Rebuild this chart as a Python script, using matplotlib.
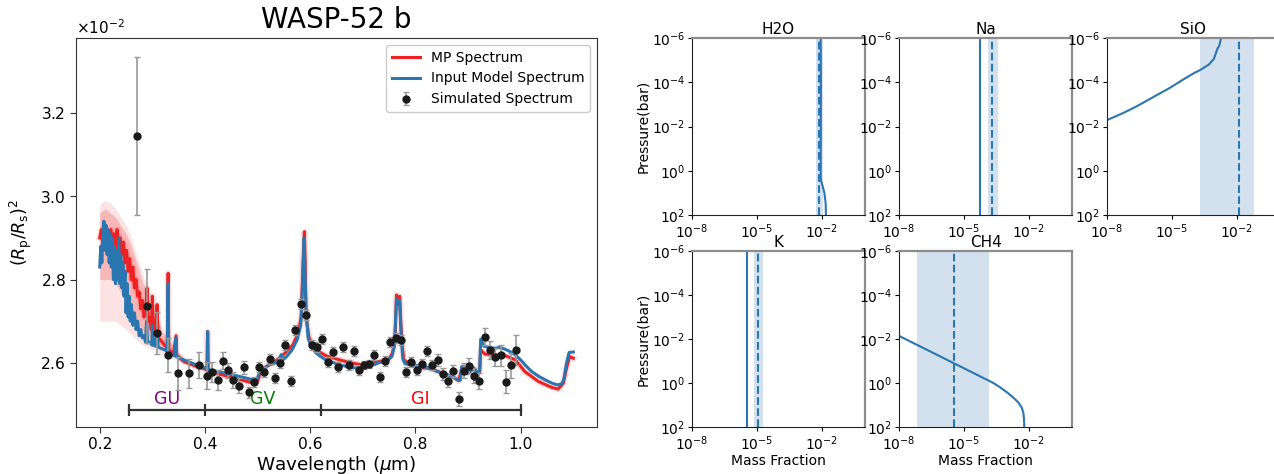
import numpy as np
import matplotlib
matplotlib.use("Agg")
import matplotlib.pyplot as plt

# ---------------- data (units of 1e-2 for transit depth) ----------------
# Input model spectrum (blue)
model_wl = [0.200, 0.202, 0.204, 0.206, 0.208, 0.210, 0.212, 0.214, 0.216, 0.218,
            0.220, 0.222, 0.224, 0.226, 0.228, 0.230, 0.232, 0.234, 0.236, 0.238,
            0.240, 0.242, 0.244, 0.246, 0.248, 0.250, 0.252, 0.254, 0.256, 0.258,
            0.260, 0.263, 0.266, 0.269, 0.272, 0.275, 0.278, 0.281, 0.284, 0.287,
            0.289, 0.291, 0.295, 0.299, 0.300, 0.302, 0.306, 0.309, 0.311, 0.316,
            0.322, 0.328, 0.330, 0.331, 0.338, 0.344, 0.345, 0.346, 0.360, 0.380,
            0.400, 0.404, 0.405, 0.406, 0.420, 0.440, 0.460, 0.480, 0.495, 0.500,
            0.505, 0.515, 0.520, 0.530, 0.540, 0.545, 0.548, 0.555, 0.565, 0.575,
            0.582, 0.586, 0.5885, 0.590, 0.592, 0.596, 0.600, 0.610, 0.620, 0.630,
            0.645, 0.660, 0.680, 0.700, 0.710, 0.715, 0.720, 0.730, 0.745, 0.755,
            0.760, 0.764, 0.767, 0.770, 0.773, 0.776, 0.780, 0.790, 0.800, 0.820,
            0.840, 0.855, 0.870, 0.880, 0.885, 0.888, 0.892, 0.900, 0.910, 0.918,
            0.922, 0.924, 0.930, 0.940, 0.950, 0.960, 0.970, 0.980, 0.990, 1.000,
            1.010, 1.020, 1.035, 1.050, 1.060, 1.070, 1.078, 1.082, 1.087, 1.092, 1.100]
model_val = [2.83, 2.88, 2.84, 2.91, 2.94, 2.87, 2.93, 2.86, 2.92, 2.84,
             2.91, 2.83, 2.90, 2.80, 2.88, 2.79, 2.87, 2.80, 2.90, 2.79,
             2.86, 2.78, 2.84, 2.76, 2.82, 2.72, 2.79, 2.71, 2.76, 2.70,
             2.74, 2.69, 2.72, 2.68, 2.70, 2.665, 2.68, 2.66, 2.665, 2.65,
             2.70, 2.648, 2.65, 2.643, 2.69, 2.642, 2.64, 2.68, 2.638, 2.635,
             2.632, 2.628, 2.79, 2.626, 2.62, 2.616, 2.66, 2.615, 2.607, 2.597,
             2.588, 2.585, 2.675, 2.584, 2.580, 2.575, 2.569, 2.563, 2.558, 2.565,
             2.580, 2.588, 2.595, 2.598, 2.605, 2.620, 2.607, 2.615, 2.630, 2.655,
             2.690, 2.800, 2.900, 2.820, 2.730, 2.660, 2.645, 2.625, 2.615, 2.607,
             2.600, 2.594, 2.588, 2.588, 2.594, 2.600, 2.595, 2.600, 2.605, 2.615,
             2.640, 2.755, 2.740, 2.750, 2.660, 2.610, 2.598, 2.595, 2.594, 2.590,
             2.580, 2.573, 2.567, 2.560, 2.558, 2.590, 2.575, 2.575, 2.588, 2.575,
             2.580, 2.657, 2.640, 2.637, 2.635, 2.637, 2.633, 2.627, 2.619, 2.607,
             2.593, 2.580, 2.567, 2.557, 2.551, 2.547, 2.550, 2.560, 2.599, 2.625, 2.626]

# MP retrieved spectrum (red)
mp_wl = [0.200, 0.203, 0.206, 0.209, 0.212, 0.215, 0.218, 0.221, 0.224, 0.227,
         0.230, 0.233, 0.236, 0.239, 0.242, 0.245, 0.248, 0.251, 0.254, 0.257,
         0.260, 0.263, 0.266, 0.269, 0.272, 0.275, 0.278, 0.281, 0.284, 0.287,
         0.290, 0.292, 0.295, 0.298, 0.300, 0.302, 0.306, 0.309, 0.311, 0.315,
         0.320, 0.325, 0.329, 0.330, 0.331, 0.340, 0.345, 0.346, 0.360, 0.380,
         0.400, 0.404, 0.405, 0.406, 0.430, 0.460, 0.490, 0.500, 0.505, 0.515,
         0.530, 0.545, 0.555, 0.567, 0.577, 0.583, 0.5865, 0.589, 0.5905, 0.592,
         0.598, 0.611, 0.630, 0.656, 0.681, 0.700, 0.712, 0.731, 0.750, 0.756,
         0.761, 0.764, 0.767, 0.770, 0.772, 0.775, 0.778, 0.788, 0.807, 0.832,
         0.851, 0.870, 0.882, 0.889, 0.900, 0.911, 0.919, 0.922, 0.924, 0.932,
         0.951, 0.971, 0.990, 1.008, 1.034, 1.059, 1.071, 1.081, 1.087, 1.093, 1.100]
mp_val = [2.90, 2.92, 2.89, 2.93, 2.90, 2.92, 2.88, 2.92, 2.89, 2.91,
          2.87, 2.92, 2.88, 2.90, 2.86, 2.89, 2.84, 2.87, 2.82, 2.85,
          2.80, 2.83, 2.78, 2.80, 2.76, 2.77, 2.73, 2.75, 2.71, 2.72,
          2.78, 2.70, 2.71, 2.68, 2.76, 2.68, 2.67, 2.74, 2.66, 2.655,
          2.648, 2.640, 2.635, 2.815, 2.632, 2.622, 2.665, 2.618, 2.603, 2.593,
          2.585, 2.582, 2.675, 2.581, 2.572, 2.562, 2.552, 2.556, 2.575, 2.590,
          2.600, 2.615, 2.627, 2.643, 2.671, 2.711, 2.850, 2.915, 2.840, 2.710,
          2.659, 2.631, 2.617, 2.607, 2.599, 2.595, 2.600, 2.603, 2.609, 2.623,
          2.650, 2.763, 2.745, 2.760, 2.700, 2.640, 2.607, 2.599, 2.591, 2.585,
          2.575, 2.567, 2.557, 2.591, 2.575, 2.587, 2.575, 2.578, 2.631, 2.621,
          2.619, 2.617, 2.607, 2.579, 2.555, 2.541, 2.537, 2.551, 2.587, 2.615, 2.611]

# MP spectrum uncertainty envelope (short-wavelength region)
band_wl = [0.200, 0.210, 0.220, 0.230, 0.240, 0.250, 0.260, 0.270, 0.280, 0.290,
           0.300, 0.310, 0.320, 0.330, 0.345, 0.360]
band_lo_outer = [2.70, 2.70, 2.70, 2.70, 2.69, 2.68, 2.67, 2.655, 2.645, 2.638,
                 2.632, 2.627, 2.622, 2.618, 2.610, 2.600]
band_hi_outer = [2.98, 2.99, 2.985, 2.97, 2.95, 2.93, 2.90, 2.86, 2.82, 2.78,
                 2.74, 2.71, 2.68, 2.66, 2.635, 2.615]
band_lo_inner = [2.80, 2.80, 2.80, 2.79, 2.77, 2.74, 2.72, 2.70, 2.68, 2.665,
                 2.652, 2.645, 2.638, 2.633, 2.618, 2.605]
band_hi_inner = [2.96, 2.97, 2.96, 2.95, 2.93, 2.91, 2.88, 2.84, 2.80, 2.76,
                 2.72, 2.70, 2.67, 2.655, 2.63, 2.61]

# Simulated observations
obs_wl = [0.270, 0.289, 0.309, 0.329, 0.349, 0.369, 0.389, 0.404, 0.414, 0.424,
          0.434, 0.443, 0.454, 0.464, 0.474, 0.484, 0.494, 0.503, 0.513, 0.523,
          0.533, 0.543, 0.553, 0.563, 0.572, 0.582, 0.592, 0.603, 0.613, 0.623,
          0.633, 0.643, 0.653, 0.663, 0.673, 0.683, 0.692, 0.702, 0.712, 0.722,
          0.732, 0.743, 0.752, 0.763, 0.773, 0.782, 0.792, 0.802, 0.812, 0.822,
          0.832, 0.842, 0.852, 0.862, 0.872, 0.882, 0.892, 0.902, 0.911, 0.921,
          0.932, 0.942, 0.952, 0.962, 0.972, 0.982, 0.992]
obs_val = [3.145, 2.737, 2.671, 2.619, 2.575, 2.575, 2.594, 2.569, 2.578, 2.559,
           2.605, 2.582, 2.559, 2.545, 2.589, 2.529, 2.554, 2.589, 2.579, 2.609,
           2.563, 2.599, 2.643, 2.557, 2.678, 2.742, 2.715, 2.643, 2.637, 2.657,
           2.601, 2.626, 2.590, 2.638, 2.596, 2.629, 2.583, 2.595, 2.598, 2.619,
           2.567, 2.605, 2.649, 2.659, 2.655, 2.579, 2.603, 2.583, 2.598, 2.629,
           2.595, 2.607, 2.574, 2.557, 2.580, 2.514, 2.581, 2.593, 2.569, 2.556,
           2.663, 2.631, 2.614, 2.618, 2.555, 2.594, 2.631]
obs_err = [0.190, 0.089, 0.050, 0.040, 0.040, 0.035, 0.031, 0.032, 0.024, 0.025,
           0.020, 0.018, 0.020, 0.018, 0.015, 0.013, 0.012, 0.012, 0.012, 0.012,
           0.012, 0.012, 0.012, 0.012, 0.012, 0.012, 0.012, 0.012, 0.012, 0.012,
           0.012, 0.012, 0.012, 0.012, 0.012, 0.012, 0.012, 0.010, 0.010, 0.012,
           0.012, 0.012, 0.012, 0.012, 0.012, 0.012, 0.012, 0.012, 0.012, 0.012,
           0.012, 0.014, 0.014, 0.014, 0.014, 0.017, 0.018, 0.018, 0.018, 0.020,
           0.020, 0.022, 0.022, 0.025, 0.028, 0.030, 0.036]

# Photometric bands
band_names = ["GU", "GV", "GI"]
band_edges = [0.255, 0.40, 0.62, 1.00]
band_colors = ["purple", "green", "red"]
band_level = 2.487

# Abundance profiles (pressure in bar, mass fraction)
h2o_p = [1e-6, 1e-4, 1e-2, 1e0, 10**0.41, 10**0.7, 10**1.0, 10**1.47, 1e2]
h2o_x = [0.0089, 0.0091, 0.0090, 0.0089, 0.0090, 0.0110, 0.0132, 0.0151, 0.0155]
h2o_fit, h2o_lo, h2o_hi = 0.0076, 0.0054, 0.0117

na_p = [1e-6, 1e2]
na_x = [5.5e-5, 5.5e-5]
na_fit, na_lo, na_hi = 2.0e-4, 1.23e-4, 3.6e-4

sio_p = [10**-6.0, 10**-5.65, 10**-5.5, 10**-5.05, 10**-4.8, 10**-4.56, 10**-4.41,
         10**-4.14, 10**-3.76, 10**-3.26, 10**-2.92, 10**-2.62, 10**-2.29]
sio_x = [10**-2.72, 10**-2.81, 10**-2.9, 10**-3.06, 10**-3.29, 10**-3.68, 10**-3.98,
         10**-4.45, 10**-5.07, 10**-5.99, 10**-6.61, 10**-7.23, 1e-8]
sio_fit, sio_lo, sio_hi = 10**-1.88, 10**-3.72, 10**-1.19

k_p = [1e-6, 1e2]
k_x = [10**-5.48, 10**-5.48]
k_fit, k_lo, k_hi = 10**-4.94, 10**-5.14, 10**-4.74

ch4_p = [10**-2.14, 10**-0.9, 10**0.0, 10**0.19, 10**0.41, 10**0.66, 10**0.88,
         10**1.11, 10**1.37, 10**1.67, 10**2.0]
ch4_x = [1e-8, 10**-5.47, 10**-3.64, 10**-3.34, 10**-3.03, 10**-2.72, 10**-2.49,
         10**-2.33, 10**-2.25, 10**-2.22, 10**-2.21]
ch4_fit, ch4_lo, ch4_hi = 10**-5.47, 10**-7.17, 10**-3.83

# ---------------- figure ----------------
plt.rcParams['font.family'] = 'DejaVu Sans'
fig = plt.figure(figsize=(12.74, 4.74), dpi=100)

RED = '#ee2222'
BLUE = '#2a76b0'
S = 1e-2

ax = fig.add_axes([0.0597, 0.0992, 0.4089, 0.8206])
bw = np.array(band_wl)
ax.fill_between(bw, np.array(band_lo_outer) * S, np.array(band_hi_outer) * S,
                color=RED, alpha=0.13, lw=0)
ax.fill_between(bw, np.array(band_lo_inner) * S, np.array(band_hi_inner) * S,
                color=RED, alpha=0.22, lw=0)
ax.plot(mp_wl, np.array(mp_val) * S, color=RED, lw=4.5, alpha=0.15)
ax.plot(mp_wl, np.array(mp_val) * S, color=RED, lw=2.2, label='MP Spectrum')
ax.plot(model_wl, np.array(model_val) * S, color=BLUE, lw=2.2, label='Input Model Spectrum')
ax.errorbar(obs_wl, np.array(obs_val) * S, yerr=np.array(obs_err) * S, fmt='o',
            color='#1a1a1a', ms=5, ecolor='#999999', elinewidth=1.2, capsize=2,
            capthick=1, label='Simulated Spectrum', zorder=5)

# band bracket
ax.plot(band_edges, [band_level * S] * len(band_edges), color='#333333', lw=1.6,
        marker='|', ms=8, mew=1.6)
for i, name in enumerate(band_names):
    ax.text(0.5 * (band_edges[i] + band_edges[i + 1]), (band_level + 0.004) * S, name,
            color=band_colors[i], ha='center', va='bottom', fontsize=12.5)

ax.set_xlim(0.155, 1.145)
ax.set_ylim(2.446 * S, 3.38 * S)
ax.set_yticks(np.array([2.6, 2.8, 3.0, 3.2]) * S)
ax.set_xticks([0.2, 0.4, 0.6, 0.8, 1.0])
ax.ticklabel_format(axis='y', style='sci', scilimits=(0, 0), useMathText=True)
ax.yaxis.get_offset_text().set_fontsize(11)
ax.tick_params(labelsize=11.2, color='#333333', length=4)
for sp in ax.spines.values():
    sp.set_color('#333333')
ax.set_xlabel(r'Wavelength ($\mu$m)', fontsize=13.2, labelpad=1)
ax.set_ylabel(r'$(R_{\rm p}/R_{\rm s})^2$', fontsize=12.5)
ax.set_title('WASP-52 b', fontsize=20, pad=7)
leg = ax.legend(loc='upper right', fontsize=10, framealpha=1, edgecolor='#cccccc',
                borderaxespad=0.5)

# ---------------- abundance panels ----------------
W, H1, H2 = 0.1358, 0.3734, 0.3713
panels = [
    ('H2O', [0.5432, 0.5464, W, H1], h2o_p, h2o_x, h2o_fit, h2o_lo, h2o_hi, True, False),
    ('Na', [0.7057, 0.5464, W, H1], na_p, na_x, na_fit, na_lo, na_hi, False, False),
    ('SiO', [0.8689, 0.5464, W, H1], sio_p, sio_x, sio_fit, sio_lo, sio_hi, False, False),
    ('K', [0.5432, 0.0992, W, H2], k_p, k_x, k_fit, k_lo, k_hi, True, True),
    ('CH4', [0.7057, 0.0992, W, H2], ch4_p, ch4_x, ch4_fit, ch4_lo, ch4_hi, False, True),
]
for name, pos, pp, xx, fit, lo, hi, ylab, xlab in panels:
    a = fig.add_axes(pos)
    a.axvspan(lo, hi, color='#d3e1ee', lw=0)
    a.axvline(fit, color=BLUE, ls='--', lw=1.5)
    a.plot(xx, pp, color=BLUE, lw=1.5)
    a.set_xscale('log')
    a.set_yscale('log')
    a.set_xlim(1e-8, 1e0)
    a.set_ylim(1e2, 1e-6)
    a.set_xticks([1e-8, 1e-5, 1e-2])
    a.set_yticks([1e2, 1e0, 1e-2, 1e-4, 1e-6])
    a.minorticks_off()
    a.tick_params(labelsize=10, length=3, pad=2)
    a.set_title(name, fontsize=11, pad=3)
    a.spines['left'].set_color('#222222')
    a.spines['bottom'].set_color('#222222')
    for s in ('top', 'right'):
        a.spines[s].set_color('#8c8c8c')
        a.spines[s].set_linewidth(1.6)
    if ylab:
        a.set_ylabel('Pressure(bar)', fontsize=10, labelpad=1)
    if xlab:
        a.set_xlabel('Mass Fraction', fontsize=10, labelpad=1)

fig.savefig('out.png', dpi=100)
